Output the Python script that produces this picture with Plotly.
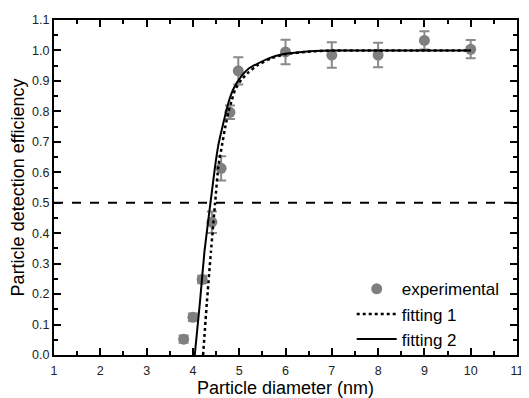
import plotly.graph_objects as go

# Experimental data
exp_x = [3.80, 4.00, 4.20, 4.41, 4.61, 4.80, 4.98, 6.0, 7.0, 8.0, 9.0, 10.0]
exp_y = [0.052, 0.124, 0.248, 0.436, 0.613, 0.797, 0.933, 0.995, 0.985, 0.985, 1.033, 1.004]
exp_err = [0.012, 0.012, 0.012, 0.035, 0.04, 0.022, 0.045, 0.04, 0.042, 0.04, 0.03, 0.03]

# Fitting curves
fit1_x = [4.22, 4.30, 4.39, 4.48, 4.55, 4.63, 4.70, 4.77, 4.84, 4.91, 5.05, 5.20, 5.40, 5.70, 6.0, 6.5, 7.0, 8.0, 9.0, 10.0]
fit1_y = [0.0, 0.17, 0.34, 0.50, 0.62, 0.69, 0.75, 0.80, 0.837, 0.870, 0.905, 0.928, 0.952, 0.975, 0.988, 0.996, 1.0, 1.0, 1.0, 1.0]

fit2_x = [4.04, 4.15, 4.25, 4.38, 4.48, 4.55, 4.65, 4.77, 4.88, 5.02, 5.20, 5.40, 5.65, 5.91, 6.3, 6.62, 7.0, 8.0, 9.0, 10.0]
fit2_y = [0.0, 0.17, 0.34, 0.50, 0.62, 0.69, 0.757, 0.830, 0.875, 0.910, 0.940, 0.957, 0.975, 0.987, 0.994, 0.998, 1.0, 1.0, 1.0, 1.0]

ref_x = [1, 11]
ref_y = [0.5, 0.5]

x_ticks = list(range(1, 12))
y_ticks = [round(0.1 * i, 1) for i in range(12)]

fig = go.Figure()
fig.add_trace(go.Scatter(x=ref_x, y=ref_y, mode="lines", showlegend=False,
                         line=dict(color="black", width=2, dash="dash")))
fig.add_trace(go.Scatter(x=exp_x, y=exp_y, mode="markers", name="experimental",
                         marker=dict(color="#7f7f7f", size=11),
                         error_y=dict(type="data", array=exp_err, color="#8a8a8a",
                                      thickness=2, width=5)))
fig.add_trace(go.Scatter(x=fit1_x, y=fit1_y, mode="lines", name="fitting 1",
                         line=dict(color="black", width=2.5, dash="dot", shape="spline", smoothing=0.4)))
fig.add_trace(go.Scatter(x=fit2_x, y=fit2_y, mode="lines", name="fitting 2",
                         line=dict(color="black", width=2, shape="spline", smoothing=0.4)))

axis_common = dict(showline=True, linecolor="black", linewidth=2, mirror="ticks",
                   ticks="inside", ticklen=7, tickwidth=1.5, tickcolor="black",
                   showgrid=False, zeroline=False,
                   tickfont=dict(size=12.5, color="#222"),
                   minor=dict(ticks="inside", ticklen=4, tickwidth=1.5, tickcolor="black", showgrid=False))

fig.update_xaxes(range=[1, 11], tickvals=x_ticks, ticktext=[str(v) for v in x_ticks],
                 ticklabelstandoff=3,
                 title=dict(text="Particle diameter (nm)", font=dict(size=18, color="black"), standoff=2),
                 **axis_common)
fig.update_xaxes(minor=dict(dtick=0.5, tick0=1))
fig.update_yaxes(range=[0, 1.1], tickvals=y_ticks, ticktext=[f"{v:.1f}" for v in y_ticks],
                 title=dict(text="Particle detection efficiency", font=dict(size=18, color="black"), standoff=6),
                 **axis_common)
fig.update_yaxes(minor=dict(dtick=0.05, tick0=0))

# page body has an 8px margin, so the figure is shifted by 8px in the window
fig.update_layout(width=521, height=390, margin=dict(l=46, r=7, t=5, b=42),
                  paper_bgcolor="white", plot_bgcolor="white",
                  font=dict(family="Liberation Sans, Arial, sans-serif", color="black"),
                  legend=dict(x=0.643, y=0.25, xanchor="left", yanchor="top",
                              bgcolor="rgba(0,0,0,0)", font=dict(size=17),
                              tracegroupgap=0, itemwidth=40))

fig.write_html("out.html")
